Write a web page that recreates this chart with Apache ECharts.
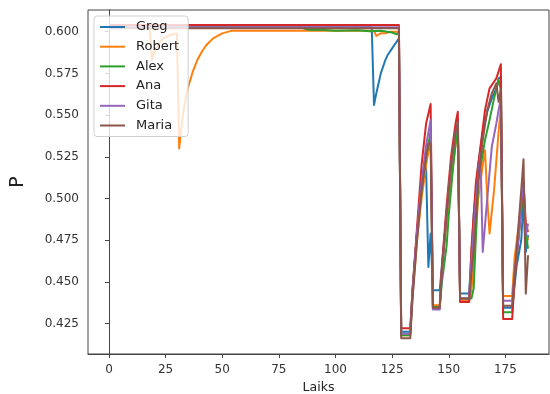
<!DOCTYPE html>
<html>
<head>
<meta charset="utf-8">
<script src="https://cdn.jsdelivr.net/npm/echarts@6/dist/echarts.min.js"></script>
<style>
  html, body { margin: 0; padding: 0; background: #fff; }
  #chart { width: 550px; height: 394px; }
</style>
</head>
<body>
<div id="chart"></div>
<script>
// tick labels
var xTicks = [0, 25, 50, 75, 100, 125, 150, 175]
var yTicks = [0.425, 0.450, 0.475, 0.500, 0.525, 0.550, 0.575, 0.600]

// series values, [Laiks, P]
var greg = [[0,0.6027],[116,0.6027],[117,0.556],[118,0.563],[119,0.569],[120,0.575],[121,0.579],[122,0.583],[123,0.586],[124,0.588],[125,0.590],[126,0.592],[127,0.594],[128,0.596],
  [129,0.4201],[133,0.4201],[134,0.445],[136,0.48],[138,0.505],[140,0.518],[141,0.459],[142,0.479],[143,0.445],[146,0.445],[147,0.46],[149,0.49],[151,0.515],[153,0.535],[154,0.543],
  [155,0.443],[159,0.443],[161,0.49],[163,0.52],[165,0.54],[167,0.552],[169,0.56],[171,0.566],[172,0.572],[173,0.573],
  [174,0.4345],[178,0.4345],[180,0.46],[182,0.475],[183,0.50],[184,0.468],[185,0.478]]
var robert = [[0,0.6025],[18,0.6025],[19,0.583],[20,0.588],[22,0.593],[24,0.596],[27,0.598],[30,0.599],[31,0.530],[32,0.543],[33,0.553],[34,0.561],[35,0.567],[37,0.576],[39,0.583],[41,0.588],[43,0.592],[46,0.596],[50,0.599],[54,0.6005],
  [117,0.6005],[118,0.5975],[120,0.599],[122,0.599],[124,0.6],[128,0.6],
  [129,0.418],[133,0.418],[134,0.441],[136,0.475],[138,0.5],[140,0.52],[142,0.536],[143,0.436],[146,0.436],[147,0.457],[149,0.485],[151,0.51],[153,0.532],[154,0.542],
  [155,0.439],[159,0.439],[160,0.445],[161,0.461],[163,0.50],[165,0.52],[166,0.529],[167,0.50],[168,0.479],[170,0.505],[172,0.54],[173,0.555],
  [174,0.4415],[178,0.4415],[179,0.464],[181,0.485],[182,0.50],[183,0.51],[184,0.48],[185,0.475]]
var alex = [[0,0.6025],[85,0.6025],[88,0.6012],[95,0.601],[100,0.6005],[110,0.6008],[115,0.6003],[120,0.6005],[125,0.5995],[127,0.5985],[128,0.5995],
  [129,0.418],[133,0.418],[134,0.445],[136,0.48],[138,0.505],[140,0.525],[142,0.54],[143,0.435],[146,0.435],[147,0.45],[149,0.471],[150,0.49],[152,0.52],[154,0.545],
  [155,0.44],[160,0.44],[161,0.446],[163,0.51],[164,0.519],[166,0.535],[168,0.547],[170,0.56],[172,0.571],[173,0.565],
  [174,0.4318],[178,0.4318],[179,0.45],[181,0.48],[183,0.505],[184,0.48],[185,0.47]]
var ana = [[0,0.604],[128,0.604],
  [129,0.4222],[133,0.4222],[134,0.445],[136,0.483],[138,0.52],[140,0.545],[142,0.5566],[143,0.434],[146,0.434],[147,0.46],[149,0.495],[151,0.525],[153,0.545],[154,0.552],
  [155,0.438],[159,0.438],[160,0.47],[162,0.51],[164,0.531],[166,0.553],[168,0.566],[170,0.57],[171,0.572],[173,0.5805],
  [174,0.4278],[178,0.4278],[179,0.45],[181,0.48],[183,0.51],[184,0.485],[185,0.48]]
var gita = [[0,0.6026],[128,0.6026],
  [129,0.419],[133,0.419],[134,0.443],[136,0.48],[138,0.51],[140,0.532],[142,0.547],[143,0.4335],[146,0.4335],[147,0.455],[149,0.49],[151,0.52],[153,0.54],[154,0.545],
  [155,0.44],[159,0.44],[160,0.462],[162,0.5],[164,0.527],[165,0.468],[167,0.50],[169,0.531],[171,0.545],[172,0.553],[173,0.56],
  [174,0.4387],[178,0.4387],[179,0.455],[181,0.478],[182,0.498],[183,0.51],[184,0.478],[185,0.485]]
var maria = [[0,0.602],[128,0.602],
  [129,0.4163],[133,0.4163],[134,0.44],[136,0.475],[138,0.505],[140,0.525],[141,0.533],[142,0.533],[143,0.4345],[146,0.4345],[147,0.458],[149,0.49],[151,0.52],[153,0.54],[154,0.546],
  [155,0.44],[159,0.44],[161,0.47],[163,0.51],[165,0.535],[167,0.553],[169,0.563],[171,0.569],[172,0.558],[173,0.566],
  [174,0.4357],[178,0.4357],[180,0.47],[182,0.505],[183,0.5235],[184,0.443],[185,0.466]]

var names = ['Greg', 'Robert', 'Alex', 'Ana', 'Gita', 'Maria']
var colors = ['#1f77b4', '#ff7f0e', '#2ca02c', '#d62728', '#9467bd', '#8c564b']
var allData = [greg, robert, alex, ana, gita, maria]

var font = 'DejaVu Sans'
var chart = echarts.init(document.getElementById('chart'), null, { renderer: 'canvas' })

var series = names.map(function (n, i) {
  return {
    name: n,
    type: 'line',
    data: allData[i],
    showSymbol: false,
    symbol: 'none',
    animation: false,
    lineStyle: { width: 2, color: colors[i], join: 'round' },
    itemStyle: { color: colors[i] }
  }
})

var option = {
  animation: false,
  color: colors,
  grid: {
    left: 88, right: 1, top: 10, bottom: 40,
    outerBoundsMode: 'none',
    show: true, borderColor: '#444', borderWidth: 1, backgroundColor: 'transparent'
  },
  legend: {
    data: names,
    orient: 'vertical',
    left: 94, top: 16,
    padding: [4, 9, 4, 6],
    itemWidth: 25, itemHeight: 2, itemGap: 5.7,
    icon: 'rect',
    backgroundColor: 'rgba(255,255,255,0.8)',
    borderColor: '#d0d0d0', borderWidth: 1, borderRadius: 3,
    textStyle: { fontFamily: font, fontSize: 13, color: '#222', lineHeight: 14, padding: [0, 0, 0, 6] }
  },
  xAxis: {
    type: 'value',
    min: -9.25, max: 194.25,
    name: 'Laiks', nameLocation: 'middle', nameGap: 26,
    nameTextStyle: { fontFamily: font, fontSize: 12.5, color: '#222' },
    splitLine: { show: false },
    axisLine: { show: true, lineStyle: { color: '#444' } },
    axisTick: { show: true, length: 4, lineStyle: { color: '#444' }, customValues: xTicks },
    axisLabel: { fontFamily: font, fontSize: 12, color: '#333', margin: 10, customValues: xTicks }
  },
  yAxis: {
    type: 'value',
    min: 0.4068, max: 0.6130,
    name: 'P', nameLocation: 'middle', nameGap: 60, nameRotate: 90,
    nameTextStyle: { fontFamily: font, fontSize: 19, color: '#222' },
    splitLine: { show: false },
    axisLine: { show: true, lineStyle: { color: '#444' } },
    axisTick: { show: true, length: 4, lineStyle: { color: '#444' }, customValues: yTicks },
    axisLabel: {
      fontFamily: font, fontSize: 12, color: '#333', margin: 9, customValues: yTicks,
      formatter: function (v) { return v.toFixed(3) }
    }
  },
  series: series
}
chart.setOption(option)
</script>
</body>
</html>
